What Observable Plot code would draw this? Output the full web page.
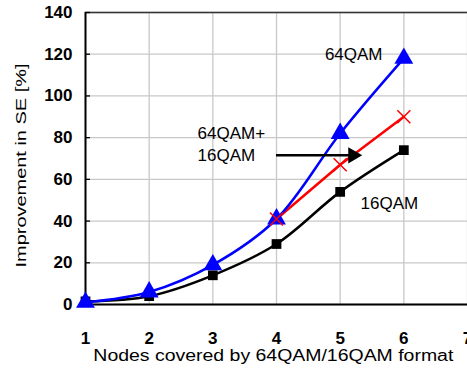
<!DOCTYPE html>
<html><head><meta charset="utf-8">
<script src="https://cdn.jsdelivr.net/npm/d3@7"></script>
<script src="https://cdn.jsdelivr.net/npm/@observablehq/plot@0.6"></script>
<style>html,body{margin:0;padding:0;background:#fff}</style>
</head><body><div id="chart"></div>
<script>
const nodes = [1, 2, 3, 4, 5, 6];
const qam64 = [1, 6, 19, 41, 82, 118];
const qam16 = [1.5, 4, 14, 29, 54, 74];
const mixedNodes = [4, 5, 6];
const mixed = [41, 67, 90];
const xTicks = [1, 2, 3, 4, 5, 6, 7];
const yTicks = [0, 20, 40, 60, 80, 100, 120, 140];
const labels = [
  {x: 4.76, y: 120, text: "64QAM"},
  {x: 2.76, y: 82, text: "64QAM+"},
  {x: 2.76, y: 71.5, text: "16QAM"},
  {x: 5.32, y: 48.6, text: "16QAM"}
];
const arrow = [{x1: 4, x2: 5.2, y: 71.5}];

const blue = nodes.map((x, i) => ({x, y: qam64[i]}));
const black = nodes.map((x, i) => ({x, y: qam16[i]}));
const red = mixedNodes.map((x, i) => ({x, y: mixed[i]}));

const font = "'Liberation Sans', Arial, sans-serif";
const chart = Plot.plot({
  width: 467, height: 370,
  marginLeft: 85, marginRight: 0, marginTop: 12, marginBottom: 66,
  style: {fontFamily: font, background: "#fff", color: "#000"},
  x: {domain: [1, 7], ticks: xTicks},
  y: {domain: [0, 140], ticks: yTicks},
  marks: [
    Plot.gridX(xTicks, {stroke: "#c8c8c8", strokeOpacity: 1, strokeWidth: 1.3}),
    Plot.gridY(yTicks, {stroke: "#c8c8c8", strokeOpacity: 1, strokeWidth: 1.3}),
    Plot.ruleY([140], {stroke: "#333", strokeWidth: 1.5}),
    Plot.axisY(yTicks, {tickSize: -5, tickPadding: 18, fontSize: 17, fontWeight: "bold", label: null, strokeWidth: 1.3}),
    Plot.axisX(xTicks, {tickSize: 0, tickPadding: 27, fontSize: 17, fontWeight: "bold", label: null}),
    Plot.text(["Improvement in SE [%]"], {frameAnchor: "left", textAnchor: "middle", dx: -64, dy: 7, rotate: -90, fontSize: 15, className: "ylab"}),
    Plot.text(["Nodes covered by 64QAM/16QAM format"], {frameAnchor: "bottom", x: 3.95, dy: 56, fontSize: 16, className: "xlab"}),
    Plot.ruleX([1], {stroke: "#000", strokeWidth: 2}),
    Plot.ruleY([0], {stroke: "#000", strokeWidth: 2.2}),
    Plot.line(black, {x: "x", y: "y", curve: "catmull-rom", stroke: "#000", strokeWidth: 2.5}),
    Plot.line(red, {x: "x", y: "y", stroke: "#ff0000", strokeWidth: 2.5}),
    Plot.line(blue, {x: "x", y: "y", curve: "catmull-rom", stroke: "#0000ff", strokeWidth: 2.5}),
    Plot.dot(black, {x: "x", y: "y", symbol: "square", r: 5.5, fill: "#000"}),
    Plot.dot(blue, {x: "x", y: "y", symbol: "triangle", r: 7, fill: "#0000ff"}),
    Plot.dot(red, {x: "x", y: "y", symbol: "times", r: 6, stroke: "#ff0000", strokeWidth: 1.5}),
    Plot.ruleY(arrow, {x1: "x1", x2: "x2", y: "y", stroke: "#000", strokeWidth: 2.5}),
    Plot.dot(arrow, {x: "x2", y: "y", symbol: "triangle", r: 6, fill: "#000", rotate: 90}),
    Plot.text(labels, {x: "x", y: "y", text: "text", textAnchor: "start", fontSize: 17, fill: "#000"})
  ]
});
d3.select(chart).selectAll("g.xlab text").attr("textLength", 360).attr("lengthAdjust", "spacingAndGlyphs");
d3.select(chart).selectAll("g.ylab text").attr("textLength", 204).attr("lengthAdjust", "spacingAndGlyphs");
document.getElementById("chart").append(chart);
</script></body></html>
